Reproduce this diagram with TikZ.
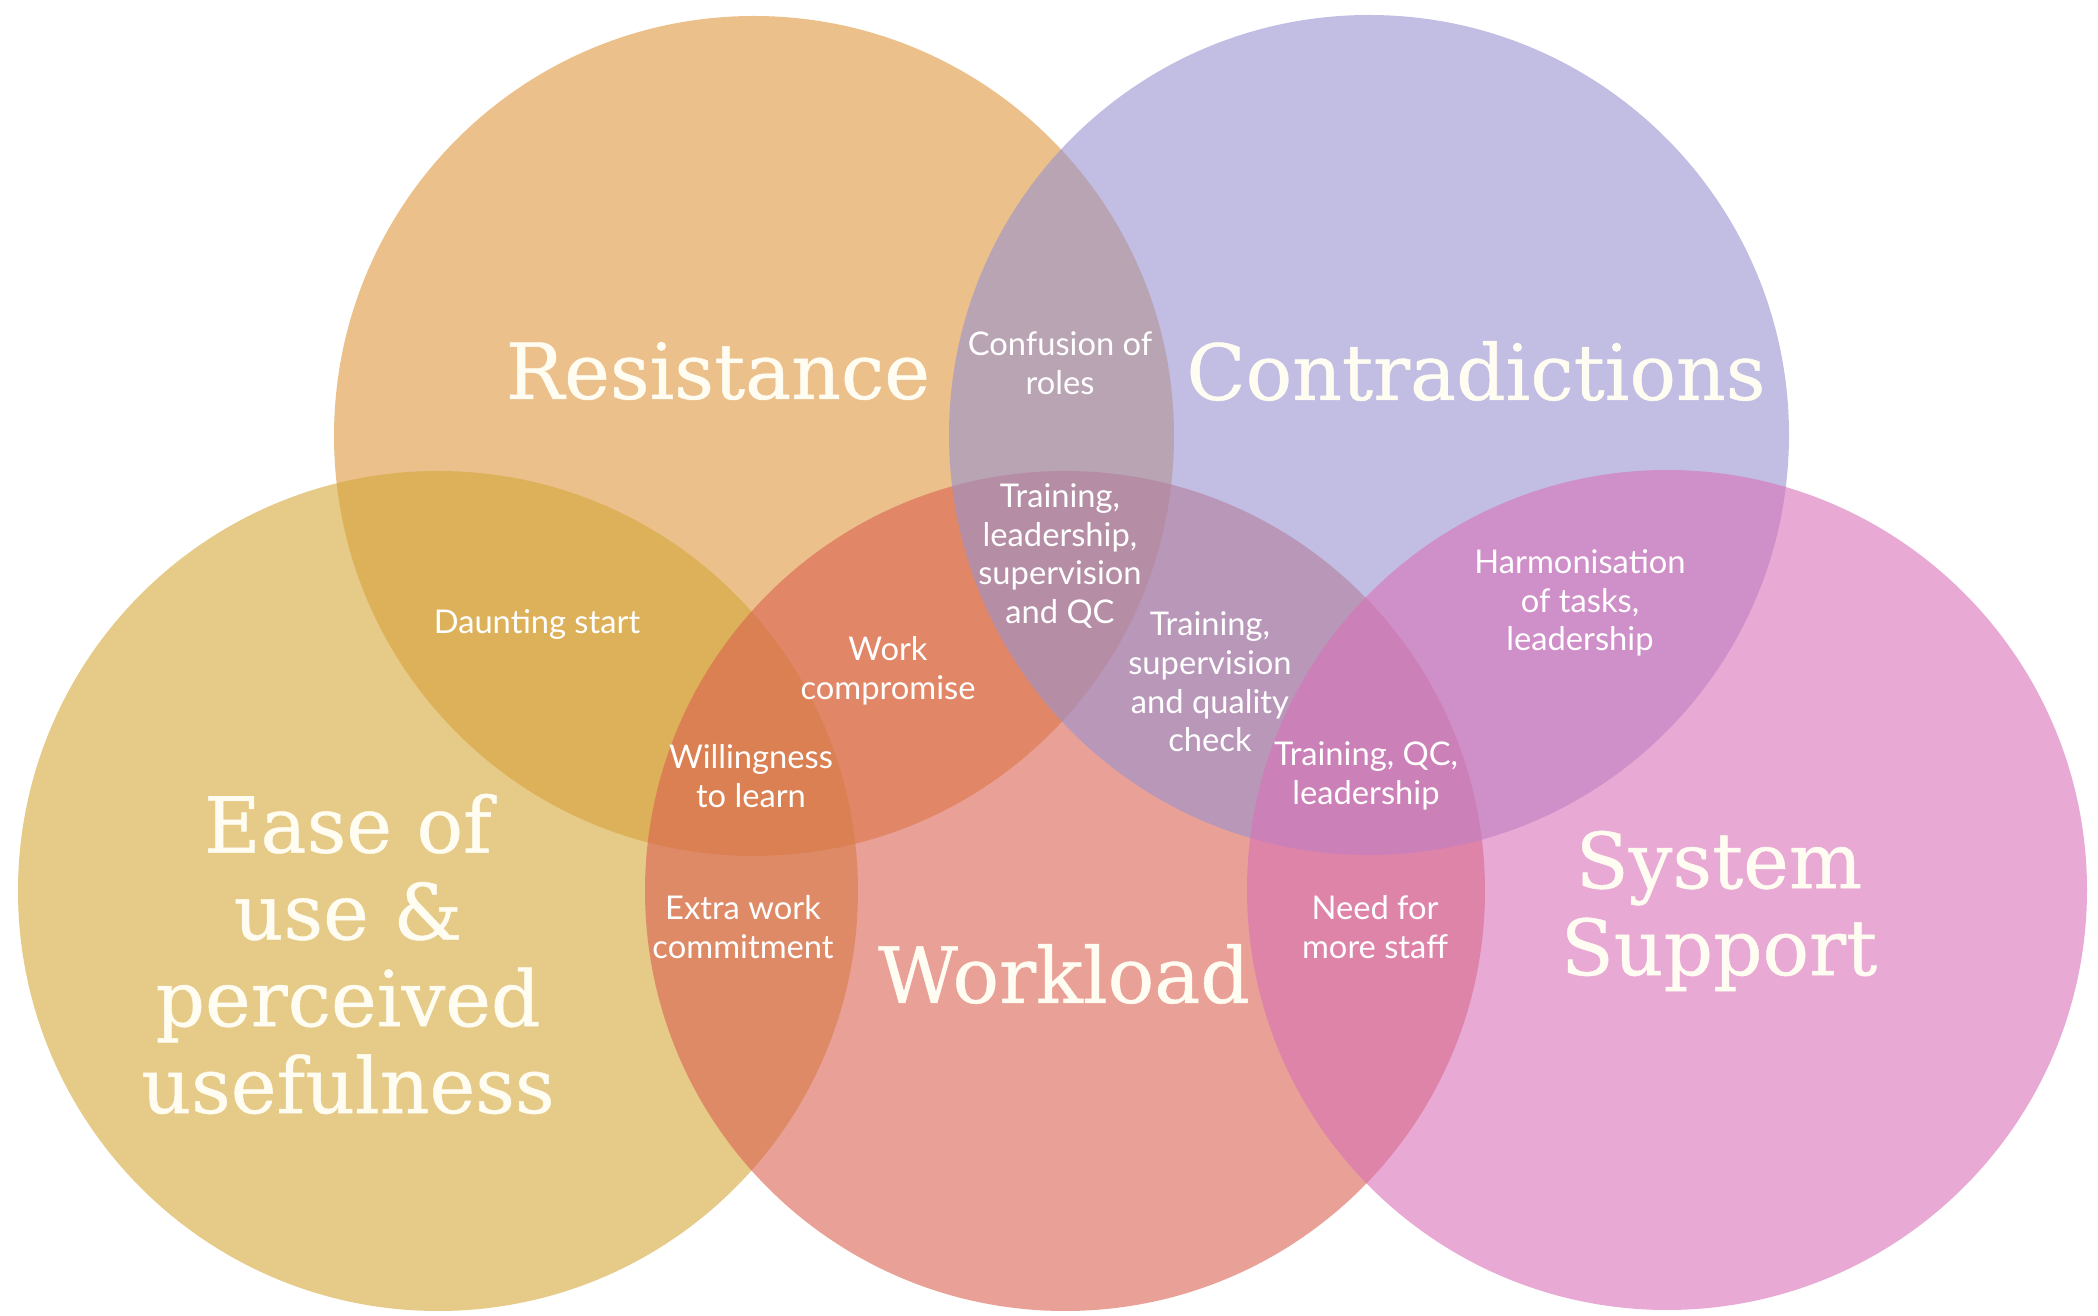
\documentclass[tikz,border=0pt]{standalone}
\usepackage{fontspec}
\setmainfont{Lato}
\newfontfamily\slabfont[FakeBold=0.6]{DejaVu Serif}
\usepackage{tikz}
\definecolor{resist}{RGB}{222,150,60}
\definecolor{contra}{RGB}{153,145,208}
\definecolor{ease}{RGB}{212,167,57}
\definecolor{workl}{RGB}{218,97,80}
\definecolor{syst}{RGB}{217,113,183}
\definecolor{cream}{RGB}{255,252,242}
\tikzset{
  blob/.style={fill=#1, fill opacity=0.6, draw=none},
  bigtext/.style={text=cream, align=center, inner sep=0pt, font=\slabfont\fontsize{22}{24.7}\selectfont},
  smalltext/.style={text=white, align=center, inner sep=0pt, font=\fontsize{9.3}{11}\selectfont}
}

\begin{document}
\begin{tikzpicture}
			%%%%% START %%%%%
			\useasboundingbox (0, 0) rectangle (20.98, 13.16);
			
			\fill[blob=resist] (7.54, 8.80) circle (4.2);
			\fill[blob=ease] (4.38, 4.25) circle (4.2);
			\fill[blob=workl] (10.65, 4.25) circle (4.2);
			\fill[blob=contra] (13.69, 8.81) circle (4.2);
			\fill[blob=syst] (16.67, 4.26) circle (4.2);
			
			\node[bigtext] (resistance) at (7.18, 9.45) {Resistance};
			\node[bigtext] (contradictions) at (14.76, 9.45) {Contradictions};
			\node[bigtext] (ease) at (3.48, 3.62) {Ease of\\use \&\\perceived\\usefulness};
			\node[bigtext] (workload) at (10.64, 3.42) {Workload};
			\node[bigtext] (support) at (17.19, 4.05) {System\\Support};
			
			\node[smalltext] (confusion) at (10.60, 9.53) {Confusion of\\roles};
			\node[smalltext] (trainlead) at (10.60, 7.60) {Training,\\leadership,\\supervision\\and QC};
			\node[smalltext] (daunting) at (5.37, 6.91) {Daunting start};
			\node[smalltext] (compromise) at (8.88, 6.45) {Work\\compromise};
			\node[smalltext] (trainsup) at (12.10, 6.34) {Training,\\supervision\\and quality\\check};
			\node[smalltext] (harmon) at (15.80, 7.13) {Harmonisation\\of tasks,\\leadership};
			\node[smalltext] (willing) at (7.51, 5.40) {Willingness\\to learn};
			\node[smalltext] (trainqc) at (13.66, 5.40) {Training, QC,\\leadership};
			\node[smalltext] (extra) at (7.43, 3.89) {Extra work\\commitment};
			\node[smalltext] (staff) at (13.75, 3.89) {Need for\\more staff};
			%%%%% END %%%%%
\end{tikzpicture}
\end{document}
